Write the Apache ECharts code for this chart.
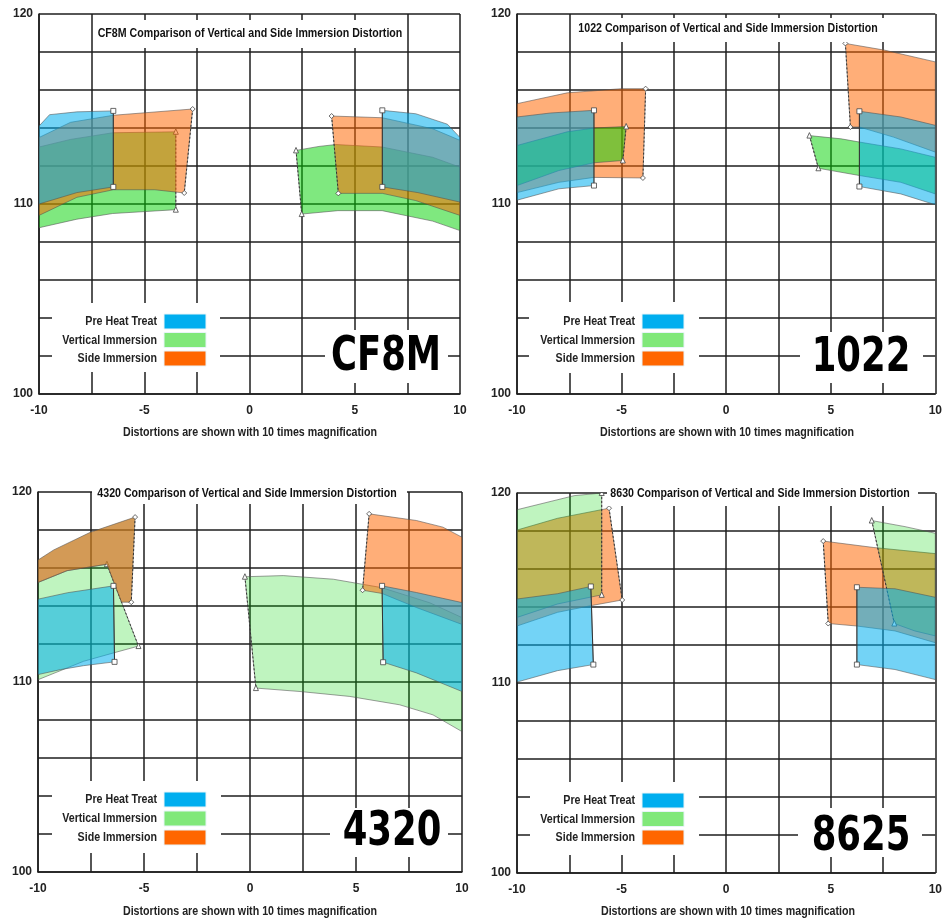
<!DOCTYPE html>
<html>
<head>
<meta charset="utf-8">
<script src="https://cdn.jsdelivr.net/npm/echarts@6/dist/echarts.min.js"></script>
<style>
  html, body { margin: 0; padding: 0; background: #fff; }
  #main { width: 945px; height: 922px; }
</style>
</head>
<body>
<div id="main"></div>
<script>
// titles and big labels of the four panels
var titles = [
  'CF8M Comparison of Vertical and Side Immersion Distortion',
  '1022 Comparison of Vertical and Side Immersion Distortion',
  '4320 Comparison of Vertical and Side Immersion Distortion',
  '8630 Comparison of Vertical and Side Immersion Distortion'
];
var labels = ['CF8M', '1022', '4320', '8625'];
var seriesNames = ['Pre Heat Treat', 'Vertical Immersion', 'Side Immersion'];
var xTickLabels = [-10, -5, 0, 5, 10];
var yTickLabels = [100, 110, 120];
var xName = 'Distortions are shown with 10 times magnification';

// each shape: [top edge from inner corner outwards, bottom edge from inner corner outwards]
// every series: [left shape, right shape]
var cf8mPre = [
  [[[-6.47, 114.9], [-8.2, 114.85], [-9.5, 114.7], [-10, 114.1]], [[-6.47, 110.9], [-8.2, 110.6], [-10, 110.0]]],
  [[[6.31, 114.93], [7.9, 114.75], [9.4, 114.2], [10, 113.5]], [[6.31, 110.9], [8.0, 110.6], [10, 110.1]]]
];
var cf8mVert = [
  [[[-3.5, 113.8], [-6.5, 113.75], [-8.5, 113.4], [-10, 113.0]], [[-3.5, 109.7], [-6.5, 109.5], [-8.2, 109.2], [-10, 108.75]]],
  [[[2.21, 112.82], [3.3, 113.03], [4.1, 113.13], [6.3, 113.0], [8.7, 112.46], [10, 111.94]], [[2.48, 109.47], [4.2, 109.65], [6.3, 109.65], [8.7, 109.1], [10, 108.6]]]
];
var cf8mSide = [
  [[[-2.7, 115.0], [-6.47, 114.67], [-8.5, 114.3], [-10, 113.5]], [[-3.1, 110.58], [-4.5, 110.75], [-6.47, 110.75], [-8.2, 110.35], [-10, 109.4]]],
  [[[3.9, 114.63], [6.31, 114.54], [8.7, 113.96], [10, 113.35]], [[4.22, 110.56], [6.31, 110.56], [7.9, 110.18], [10, 109.4]]]
];

var s1022Pre = [
  [[[-6.32, 114.93], [-8.4, 114.79], [-10, 114.58]], [[-6.32, 110.97], [-8.0, 110.8], [-10, 110.2]]],
  [[[6.37, 114.88], [8.35, 114.58], [10, 114.14]], [[6.37, 110.92], [8.35, 110.53], [10, 109.96]]]
];
var s1022Vert = [
  [[[-4.78, 114.08], [-6.32, 114.0], [-7.6, 113.8], [-10, 113.08]], [[-4.94, 112.29], [-6.32, 112.17], [-8.0, 111.76], [-10, 110.97]]],
  [[[3.98, 113.6], [5.5, 113.43], [6.37, 113.26], [8.35, 112.9], [10, 112.46]], [[4.41, 111.88], [6.37, 111.5], [8.35, 111.14], [10, 110.53]]]
];
var s1022Side = [
  [[[-3.85, 116.07], [-5.0, 116.07], [-7.6, 115.85], [-10, 115.28]], [[-3.98, 111.37], [-6.32, 111.4], [-8.0, 111.14], [-10, 110.6]]],
  [[[5.7, 118.45], [7.56, 118.1], [10, 117.48]], [[5.94, 114.05], [6.37, 114.05], [8.0, 113.52], [10, 112.73]]]
];

var s4320Pre = [
  [[[-6.44, 115.06], [-8.6, 114.7], [-10, 114.36]], [[-6.39, 111.06], [-7.85, 110.86], [-8.95, 110.65], [-10, 110.39]]],
  [[[6.23, 115.06], [7.85, 114.71], [10, 114.18]], [[6.28, 111.04], [7.85, 110.48], [10, 109.5]]]
];
var s4320Vert = [
  [[[-6.75, 116.2], [-8.63, 115.86], [-10, 115.24]], [[-5.26, 111.89], [-6.44, 111.53], [-7.85, 111.09], [-10, 110.12]]],
  [[[-0.24, 115.54], [1.57, 115.6], [3.93, 115.41], [6.2, 114.97], [8.48, 114.17], [10, 113.39]], [[0.28, 109.68], [2.36, 109.5], [4.71, 109.24], [7.06, 108.8], [8.63, 108.27], [10, 107.39]]]
];
var s4320Side = [
  [[[-5.42, 118.68], [-7.53, 117.88], [-9.26, 116.95], [-10, 116.42]], [[-5.6, 114.2], [-6.06, 114.2], [-6.75, 116.2], [-8.63, 115.86], [-10, 115.24]]],
  [[[5.62, 118.85], [7.85, 118.5], [9.1, 118.15], [10, 117.62]], [[5.31, 114.83], [6.23, 114.66], [7.85, 113.92], [10, 113.03]]]
];

var s8630Pre = [
  [[[-6.47, 115.08], [-8.06, 114.7], [-10, 114.42]], [[-6.35, 110.97], [-8.06, 110.65], [-10, 110.05]]],
  [[[6.25, 115.04], [8.07, 114.96], [10, 114.51]], [[6.25, 110.97], [8.07, 110.71], [10, 110.18]]]
];
var s8630Vert = [
  [[[-5.95, 120.0], [-7.27, 119.86], [-10, 119.12]], [[-5.95, 114.64], [-8.06, 114.16], [-10, 113.45]]],
  [[[6.96, 118.55], [8.55, 118.23], [10, 117.88]], [[8.04, 113.13], [9.02, 112.74], [10, 112.48]]]
];
var s8630Side = [
  [[[-5.6, 119.2], [-8.06, 118.67], [-10, 118.05]], [[-4.97, 114.37], [-6.47, 114.07], [-8.06, 113.72], [-10, 113.0]]],
  [[[4.64, 117.47], [7.06, 117.13], [10, 116.81]], [[4.88, 113.13], [6.25, 113.0], [8.07, 112.74], [10, 112.12]]]
];

var SANS = '"Liberation Sans", Arial, sans-serif';
var COND = '"DejaVu Sans Condensed", "Liberation Sans", sans-serif';
var legendColors = ['#00AEEF', '#80E87A', '#FF6600'];
var symbols = ['rect', 'triangle', 'diamond'];

var panels = [
  { shapes: [cf8mPre, cf8mVert, cf8mSide], grid: { left: 39, top: 14, width: 421, height: 380 },
    z: [4, 2, 3], fills: ['rgba(0,174,239,0.55)', 'rgba(0,210,0,0.5)', 'rgba(255,102,0,0.53)'],
    title: { box: [93, 20, 314, 28], x: 250, y: 34 },
    big: { box: [325, 330, 123, 53], x: 386, y: 358 },
    note: { x: 250, y: 432 },
    legend: { box: [52, 303, 168, 69], sx: 164, sy: 314, step: 18.5 } },
  { shapes: [s1022Pre, s1022Vert, s1022Side], grid: { left: 517, top: 14, width: 419, height: 380 },
    z: [4, 3, 2], fills: ['rgba(0,174,239,0.55)', 'rgba(0,210,0,0.5)', 'rgba(255,102,0,0.53)'],
    title: { box: [572, 18, 313, 24], x: 728, y: 29 },
    big: { box: [800, 332, 123, 51], x: 861, y: 359 },
    note: { x: 727, y: 432 },
    legend: { box: [529, 302, 170, 71], sx: 642, sy: 314, step: 18.5 } },
  { shapes: [s4320Pre, s4320Vert, s4320Side], grid: { left: 38, top: 492, width: 424, height: 380 },
    z: [4, 2, 3], fills: ['rgba(0,174,239,0.55)', 'rgba(0,210,0,0.25)', 'rgba(255,102,0,0.53)'],
    leftFix: { 2: 'rgba(196,120,30,0.75)' },
    title: { box: [92, 482, 315, 22], x: 247, y: 494 },
    big: { box: [330, 808, 118, 49], x: 392, y: 833 },
    note: { x: 250, y: 911 },
    legend: { box: [52, 781, 169, 72], sx: 164, sy: 792, step: 19 } },
  { shapes: [s8630Pre, s8630Vert, s8630Side], grid: { left: 517, top: 493, width: 422, height: 380 },
    z: [4, 3, 2], fills: ['rgba(0,174,239,0.55)', 'rgba(0,210,0,0.25)', 'rgba(255,102,0,0.53)'],
    title: { box: [607, 482, 311, 24], x: 760, y: 494 },
    big: { box: [798, 808, 124, 49], x: 861, y: 838 },
    note: { x: 728, y: 911 },
    legend: { box: [530, 782, 169, 73], sx: 642, sy: 793, step: 18.5 } }
];

function markerShape(p, kind) {
  var s = 2.5;
  var st = { fill: '#fff', stroke: '#444', lineWidth: 0.8 };
  if (kind === 'rect') {
    return { type: 'rect', shape: { x: p[0] - s, y: p[1] - s, width: 2 * s, height: 2 * s }, style: st };
  }
  if (kind === 'triangle') {
    return { type: 'polygon', shape: { points: [[p[0], p[1] - s - 0.5], [p[0] + s, p[1] + s], [p[0] - s, p[1] + s]] }, style: st };
  }
  return { type: 'polygon', shape: { points: [[p[0], p[1] - s], [p[0] + s, p[1]], [p[0], p[1] + s], [p[0] - s, p[1]]] }, style: st };
}

function makeRender(shapes, fill, kind, fix) {
  return function (params, api) {
    var s = shapes[params.dataIndex];
    var top = s[0], bot = s[1];
    var pts = top.concat(bot.slice().reverse()).map(function (p) { return api.coord(p); });
    var a = api.coord(top[0]), b = api.coord(bot[0]);
    var f = (fix && params.dataIndex === 0) ? fix : fill;
    return {
      type: 'group',
      children: [
        { type: 'polygon', shape: { points: pts }, style: { fill: f, stroke: 'rgba(80,80,80,0.7)', lineWidth: 0.8 } },
        { type: 'line', shape: { x1: a[0], y1: a[1], x2: b[0], y2: b[1] },
          style: { stroke: '#333', lineWidth: 1, lineDash: kind === 'rect' ? null : [2, 2] } },
        markerShape(a, kind),
        markerShape(b, kind)
      ]
    };
  };
}

function whiteBox(b) {
  return { type: 'rect', z: 90, shape: { x: b[0], y: b[1], width: b[2], height: b[3] }, style: { fill: '#fff' } };
}

var option = { animation: false, backgroundColor: '#fff', grid: [], xAxis: [], yAxis: [], series: [], graphic: [] };
var lineCol = '#1e1e1e';

panels.forEach(function (pn, i) {
  option.grid.push(pn.grid);
  option.xAxis.push({
    gridIndex: i, type: 'value', min: -10, max: 10, interval: 2.5,
    axisLine: { show: true, onZero: false, lineStyle: { color: lineCol, width: 1.5 } },
    axisTick: { show: false },
    splitLine: { show: true, lineStyle: { color: lineCol, width: 1.5 } },
    axisLabel: {
      margin: 11, color: '#222', fontSize: 12, fontWeight: 'bold', fontFamily: SANS,
      formatter: function (v) { return xTickLabels.indexOf(v) >= 0 ? String(v) : ''; }
    }
  });
  option.yAxis.push({
    gridIndex: i, type: 'value', min: 100, max: 120, interval: 2,
    axisLine: { show: true, onZero: false, lineStyle: { color: lineCol, width: 1.5 } },
    axisTick: { show: false },
    splitLine: { show: true, lineStyle: { color: lineCol, width: 1.5 } },
    axisLabel: {
      margin: 6, color: '#222', fontSize: 12, fontWeight: 'bold', fontFamily: SANS,
      formatter: function (v) { return yTickLabels.indexOf(v) >= 0 ? String(v) : ''; }
    }
  });
  seriesNames.forEach(function (nm, k) {
    var shapes = pn.shapes[k];
    option.series.push({
      type: 'custom', name: nm, xAxisIndex: i, yAxisIndex: i, z: pn.z[k],
      itemStyle: { color: legendColors[k] },
      clip: true,
      renderItem: makeRender(shapes, pn.fills[k], symbols[k], pn.leftFix ? pn.leftFix[k] : null),
      data: shapes.map(function (s) { return s[0][0]; })
    });
  });

  // chart title in a white box at the top of the plot
  option.graphic.push(whiteBox(pn.title.box));
  option.graphic.push({
    type: 'text', x: pn.title.x, y: pn.title.y, z: 100, scaleX: 0.85,
    style: { text: titles[i], fill: '#111', font: 'bold 12.5px ' + SANS, align: 'center', verticalAlign: 'middle' }
  });
  // x axis note under the tick labels
  option.graphic.push({
    type: 'text', x: pn.note.x, y: pn.note.y, z: 100, scaleX: 0.82,
    style: { text: xName, fill: '#222', font: 'bold 13px ' + SANS, align: 'center', verticalAlign: 'middle' }
  });
  // big alloy label
  option.graphic.push(whiteBox(pn.big.box));
  option.graphic.push({
    type: 'text', x: pn.big.x, y: pn.big.y, z: 100, scaleX: 0.82,
    style: { text: labels[i], fill: '#000', font: 'bold 48px ' + COND, align: 'center', verticalAlign: 'middle' }
  });
  // legend
  var lg = pn.legend;
  option.graphic.push(whiteBox(lg.box));
  seriesNames.forEach(function (nm, k) {
    var y = lg.sy + k * lg.step;
    option.graphic.push({
      type: 'rect', z: 100, shape: { x: lg.sx, y: y, width: 42, height: 15 },
      style: { fill: legendColors[k], stroke: '#e8f4f8', lineWidth: 1 }
    });
    option.graphic.push({
      type: 'text', x: lg.sx - 7, y: y + 7.5, z: 100, scaleX: 0.82,
      style: { text: nm, fill: '#222', font: 'bold 13px ' + SANS, align: 'right', verticalAlign: 'middle' }
    });
  });
});

var chart = echarts.init(document.getElementById('main'));
chart.setOption(option);
</script>
</body>
</html>
